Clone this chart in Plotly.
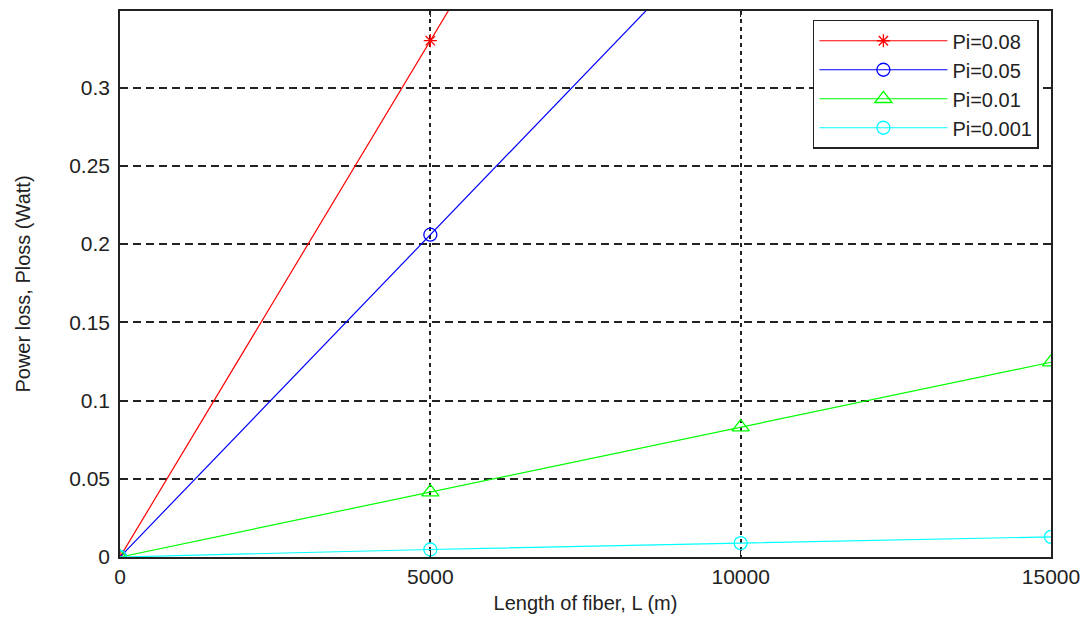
import plotly.graph_objects as go

L = [0, 5000, 10000, 15000]
names = ["Pi=0.08", "Pi=0.05", "Pi=0.01", "Pi=0.001"]
ploss_008 = [0, 0.330, 0.660, 0.990]
ploss_005 = [0, 0.206, 0.412, 0.618]
ploss_001 = [0, 0.0415, 0.0830, 0.1245]
ploss_0001 = [0, 0.0048, 0.0089, 0.0129]
colors = ["#ff0000", "#0000ff", "#00ff00", "#00ffff"]
symbols = ["asterisk-open", "circle-open", "triangle-up-open", "circle-open"]
sizes = [11, 13, 15, 13]

fig = go.Figure()
for name, y, c, s, sz in zip(names, [ploss_008, ploss_005, ploss_001, ploss_0001], colors, symbols, sizes):
    fig.add_trace(go.Scatter(
        x=L, y=y, name=name, mode="lines+markers",
        line=dict(color=c, width=1.2),
        marker=dict(symbol=s, size=sz, color=c, line=dict(color=c, width=1.3)),
        cliponaxis=True,
    ))

font = "Liberation Sans, Arial, sans-serif"
fig.update_layout(
    width=1089, height=617,
    margin=dict(l=112, r=46, t=1, b=68),
    paper_bgcolor="white", plot_bgcolor="white",
    font=dict(family=font, size=21, color="#222222"),
    showlegend=True,
    legend=dict(
        x=0.987, y=0.984, xanchor="right", yanchor="top",
        bgcolor="white", bordercolor="#222222", borderwidth=1.5,
        font=dict(size=20), tracegroupgap=0, itemwidth=128,
    ),
    xaxis=dict(
        range=[0, 15000], tickvals=[0, 5000, 10000, 15000],
        ticktext=["0", "5000", "10000", "15000"],
        showgrid=True, gridcolor="#222222", gridwidth=1.5, griddash="4px,4px",
        showline=True, linecolor="#222222", linewidth=1.5, mirror="allticks",
        ticks="inside", ticklen=6, tickcolor="#222222",
        zeroline=False,
        title=dict(text="Length of fiber, L (m)", font=dict(size=20), standoff=9),
    ),
    yaxis=dict(
        range=[0, 0.349], tickvals=[0, 0.05, 0.1, 0.15, 0.2, 0.25, 0.3],
        ticktext=["0", "0.05", "0.1", "0.15", "0.2", "0.25", "0.3"],
        showgrid=True, gridcolor="#222222", gridwidth=1.5, griddash="8px,5px",
        showline=True, linecolor="#222222", linewidth=1.5, mirror="allticks",
        ticks="inside", ticklen=6, tickcolor="#222222",
        ticklabelstandoff=4,
        zeroline=False,
        title=dict(text="Power loss, Ploss (Watt)", font=dict(size=20), standoff=33),
    ),
)

fig.write_html("out.html")
